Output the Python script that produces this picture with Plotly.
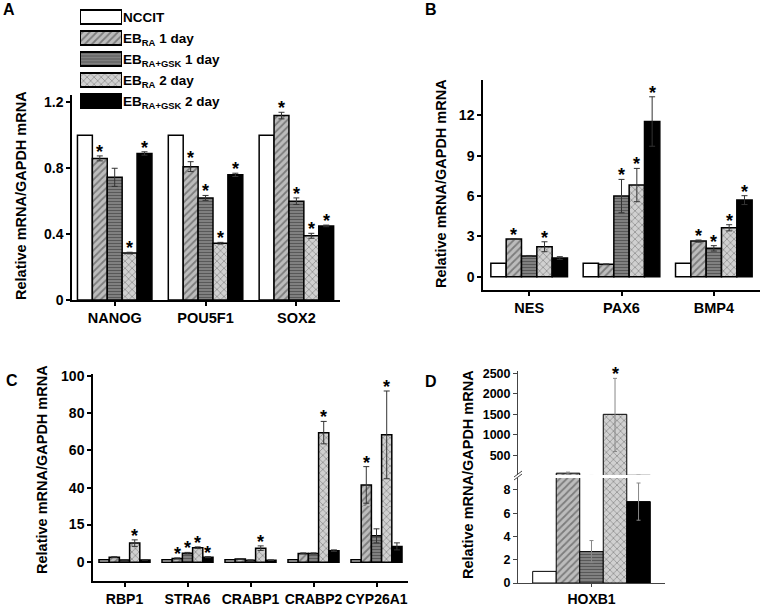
import plotly.graph_objects as go

W, H = 765, 606
FONT = "Arial, 'Liberation Sans', Helvetica, sans-serif"

SERIES = ["NCCIT", "EB<sub>RA</sub> 1 day", "EB<sub>RA+GSK</sub> 1 day",
          "EB<sub>RA</sub> 2 day", "EB<sub>RA+GSK</sub> 2 day"]

# ---------------- Panel A ----------------
A_GENES = ["NANOG", "POU5F1", "SOX2"]
A_NCCIT = [1.00, 1.00, 1.00]
A_RA1 = [0.86, 0.81, 1.12]
A_GSK1 = [0.745, 0.62, 0.60]
A_RA2 = [0.285, 0.345, 0.39]
A_GSK2 = [0.89, 0.76, 0.45]
A_ERR = [[0, 0, 0], [0.015, 0.03, 0.02], [0.055, 0.015, 0.02],
         [0.005, 0.005, 0.015], [0.01, 0.01, 0.005]]
A_SIG = [[0, 0, 0], [1, 1, 1], [0, 1, 1], [1, 1, 1], [1, 1, 1]]
A_TICKS = [0, 0.4, 0.8, 1.2]

# ---------------- Panel B ----------------
B_GENES = ["NES", "PAX6", "BMP4"]
B_NCCIT = [1.0, 1.0, 1.0]
B_RA1 = [2.80, 0.92, 2.65]
B_GSK1 = [1.54, 6.00, 2.11]
B_RA2 = [2.23, 6.82, 3.64]
B_GSK2 = [1.39, 11.55, 5.70]
B_ERR = [[0, 0, 0], [0.03, 0.03, 0.08], [0.04, 1.24, 0.20],
         [0.37, 1.24, 0.23], [0.10, 1.84, 0.33]]
B_SIG = [[0, 0, 0], [1, 0, 1], [0, 1, 1], [1, 1, 1], [0, 1, 1]]
B_TICKS = [0, 3, 6, 9, 12]

# ---------------- Panel C ----------------
C_GENES = ["RBP1", "STRA6", "CRABP1", "CRABP2", "CYP26A1"]
C_NCCIT = [1, 1, 1, 1, 1]
C_RA1 = [2.0, 1.5, 1.3, 3.5, 41.5]
C_GSK1 = [0.9, 3.6, 0.8, 3.5, 10.5]
C_RA2 = [7.6, 5.8, 5.6, 69.5, 68.3]
C_GSK2 = [0.9, 2.0, 0.8, 4.6, 6.3]
C_ERR = [[0, 0, 0, 0, 0], [0.2, 0.2, 0.1, 0.2, 9.8], [0.1, 0.3, 0.1, 0.2, 2.8],
         [1.3, 0.3, 0.9, 6.0, 23.5], [0.1, 0.2, 0.1, 0.3, 1.4]]
C_SIG = [[0, 0, 0, 0, 0], [0, 1, 0, 0, 1], [0, 1, 0, 0, 0],
         [1, 1, 1, 1, 1], [0, 1, 0, 0, 0]]
C_TICKS_LOW = [0, 15]
C_TICKS_HIGH = [40, 60, 80, 100]

# ---------------- Panel D ----------------
D_GENES = ["HOXB1"]
D_NCCIT = [1.0]
D_RA1 = [60]
D_GSK1 = [2.7]
D_RA2 = [1500]
D_GSK2 = [7.0]
D_ERR_UP = [[0], [25], [0.95], [880], [1.6]]
D_ERR_DN = [[0], [25], [0.95], [910], [1.6]]
D_SIG = [[0], [0], [0], [1], [0]]
D_TICKS_LOW = [0, 2, 4, 6, 8]
D_TICKS_HIGH = [500, 1000, 1500, 2000, 2500]

A_VALS = [A_NCCIT, A_RA1, A_GSK1, A_RA2, A_GSK2]
B_VALS = [B_NCCIT, B_RA1, B_GSK1, B_RA2, B_GSK2]
C_VALS = [C_NCCIT, C_RA1, C_GSK1, C_RA2, C_GSK2]
D_VALS = [D_NCCIT, D_RA1, D_GSK1, D_RA2, D_GSK2]

BAR_STYLES = [
    dict(color="white", pattern=dict(shape="")),
    dict(color="#b0b0b0", pattern=dict(shape="/", fgcolor="#3c3c3c", bgcolor="#bcbcbc", size=5, solidity=0.35)),
    dict(color="#777777", pattern=dict(shape="-", fgcolor="#303030", bgcolor="#808080", size=3, solidity=0.35)),
    dict(color="#c8c8c8", pattern=dict(shape="x", fgcolor="#555555", bgcolor="#d0d0d0", size=5, solidity=0.3)),
    dict(color="black", pattern=dict(shape="")),
]


def xd(l, r):
    return [l / W, r / W]


def yd(t, b):
    return [1 - b / H, 1 - t / H]


def tf(size=13):
    return dict(family=FONT, size=size, color="black", weight="bold")


fig = go.Figure()


def add_bars(vals, eup, edn, xa, ya, bw, lw, ecol, ewidth=3):
    for j in range(5):
        x = [i + (j - 2) * bw for i in range(len(vals[j]))]
        st = BAR_STYLES[j]
        fig.add_trace(go.Bar(
            x=x, y=vals[j], width=bw, xaxis=xa, yaxis=ya,
            marker=dict(color=st["color"], pattern=st["pattern"],
                        line=dict(color="black", width=lw)),
            error_y=dict(type="data", array=eup[j], arrayminus=edn[j],
                         visible=any(e > 0 for e in eup[j]),
                         color=ecol, thickness=1, width=ewidth),
            showlegend=False, hoverinfo="skip"))


def add_stars(vals, eup, sig, bw, refs):
    for j in range(5):
        for i, s in enumerate(sig[j]):
            if s:
                top = vals[j][i] + eup[j][i]
                xr, yr = refs(top)
                fig.add_annotation(x=i + (j - 2) * bw, y=top, xref=xr, yref=yr,
                                   text="*", showarrow=False, yanchor="middle",
                                   yshift=4, font=tf(18))


# Panel A
bwA = 0.164
add_bars(A_VALS, A_ERR, A_ERR, "x", "y", bwA, 1.5, "#333")
add_stars(A_VALS, A_ERR, A_SIG, bwA, lambda t: ("x", "y"))

# Panel B
bwB = 0.166
add_bars(B_VALS, B_ERR, B_ERR, "x2", "y2", bwB, 1.5, "#333")
add_stars(B_VALS, B_ERR, B_SIG, bwB, lambda t: ("x2", "y2"))

# Panel C (broken scale: lower and upper segments)
C_LOW_RANGE = [-7.5, 22.4]
C_HIGH_RANGE = [30.2, 100.9]
bwC = 0.162
add_bars(C_VALS, C_ERR, C_ERR, "x3", "y3", bwC, 1.5, "#333")
add_bars(C_VALS, C_ERR, C_ERR, "x4", "y4", bwC, 1.5, "#333")
add_stars(C_VALS, C_ERR, C_SIG, bwC,
          lambda t: ("x3", "y3") if t < C_LOW_RANGE[1] else ("x4", "y4"))

# Panel D (broken scale)
D_LOW_RANGE = [0, 9.03]
D_HIGH_RANGE = [15, 2560]
bwD = 0.16
add_bars(D_VALS, D_ERR_UP, D_ERR_DN, "x5", "y5", bwD, 1, "#888", 2)
add_bars(D_VALS, D_ERR_UP, D_ERR_DN, "x6", "y6", bwD, 1, "#888", 2)
add_stars(D_VALS, D_ERR_UP, D_SIG, bwD,
          lambda t: ("x5", "y5") if t < D_LOW_RANGE[1] else ("x6", "y6"))

# Legend swatches drawn as a small horizontal bar subplot
for j, name in enumerate(SERIES):
    st = BAR_STYLES[j]
    fig.add_trace(go.Bar(
        x=[1], y=[j], orientation="h", width=0.67, xaxis="x7", yaxis="y7",
        marker=dict(color=st["color"], pattern=st["pattern"],
                    line=dict(color="black", width=2)),
        showlegend=False, hoverinfo="skip"))


def axis(**kw):
    base = dict(showline=True, linecolor="black", linewidth=1.5, ticks="outside",
                ticklen=4, tickcolor="black", tickwidth=1.5, showgrid=False,
                zeroline=False, tickfont=tf(14), fixedrange=True, automargin=False,
                tickangle=0)
    base.update(kw)
    return base


layout = dict(
    width=W, height=H, margin=dict(l=0, r=0, t=0, b=0, autoexpand=False),
    paper_bgcolor="white", plot_bgcolor="rgba(0,0,0,0)",
    barmode="overlay", showlegend=False,
    font=dict(family=FONT, color="black"),
    # A
    xaxis=axis(domain=xd(72, 340), range=[-0.47, 2.48], tickvals=list(range(len(A_GENES))),
               ticktext=A_GENES, tickfont=tf(14.5), anchor="y"),
    yaxis=axis(domain=yd(95, 300), range=[0, 1.245], tickvals=A_TICKS, anchor="x"),
    # B
    xaxis2=axis(domain=xd(483, 760), range=[-0.5, 2.5], tickvals=list(range(len(B_GENES))),
                ticktext=B_GENES, tickfont=tf(14.5), anchor="y2"),
    yaxis2=axis(domain=yd(80, 290), range=[-0.99, 14.64], tickvals=B_TICKS, anchor="x2"),
    # C
    xaxis3=axis(domain=xd(93, 408), range=[-0.5, 4.5], tickvals=list(range(len(C_GENES))),
                ticktext=C_GENES, tickfont=tf(14), anchor="y3"),
    yaxis3=axis(domain=yd(506, 581), range=C_LOW_RANGE, tickvals=C_TICKS_LOW, anchor="x3"),
    xaxis4=dict(domain=xd(93, 408), range=[-0.5, 4.5], visible=False, anchor="y4",
                fixedrange=True),
    yaxis4=axis(domain=yd(374, 506), range=C_HIGH_RANGE, tickvals=C_TICKS_HIGH, anchor="x4"),
    # D
    xaxis5=axis(domain=xd(518, 665), range=[-0.5, 0.5], tickvals=[0], ticktext=D_GENES,
                tickfont=tf(14), anchor="y5", linecolor="#444", linewidth=1, tickcolor="#444",
                tickwidth=1, ticklen=3),
    yaxis5=axis(domain=yd(478, 583), range=D_LOW_RANGE, tickvals=D_TICKS_LOW, anchor="x5",
                linecolor="#444", linewidth=1, tickcolor="#444", tickwidth=1, tickfont=tf(12.5)),
    xaxis6=dict(domain=xd(518, 665), range=[-0.5, 0.5], visible=False, anchor="y6",
                fixedrange=True),
    yaxis6=axis(domain=yd(371, 475), range=D_HIGH_RANGE, tickvals=D_TICKS_HIGH, anchor="x6",
                linecolor="#444", linewidth=1, tickcolor="#444", tickwidth=1, tickfont=tf(12.5)),
    # legend
    xaxis7=dict(domain=xd(80, 122), range=[0, 1], visible=False, anchor="y7", fixedrange=True),
    yaxis7=dict(domain=yd(6.5, 111.5), range=[4.5, -0.5], tickvals=list(range(len(SERIES))),
                ticktext=SERIES, side="right", anchor="x7", showline=False, showgrid=False,
                zeroline=False, ticks="", tickfont=tf(13.5), fixedrange=True, automargin=False),
)
fig.update_layout(**layout)

# Panel letters and y-axis titles
for letter, px, py in [("A", 9, 10), ("B", 431, 9), ("C", 12, 380), ("D", 431, 381)]:
    fig.add_annotation(x=px / W, y=1 - py / H, xref="paper", yref="paper", text=letter,
                       showarrow=False, xanchor="center", yanchor="middle", font=tf(16))

YTITLE = "Relative mRNA/GAPDH mRNA"
for px, py in [(21, 196), (441, 183), (42, 470), (468, 475)]:
    fig.add_annotation(x=px / W, y=1 - py / H, xref="paper", yref="paper", text=YTITLE,
                       textangle=-90, showarrow=False, xanchor="center", yanchor="middle",
                       font=tf(14.5))

# axis-break mark on panel D
for dy in (0, 3):
    fig.add_shape(type="line", xref="paper", yref="paper",
                  x0=514 / W, y0=1 - (480 - dy) / H, x1=522 / W, y1=1 - (474 - dy) / H,
                  line=dict(color="#444", width=1))

fig.write_html("out.html", config={"displayModeBar": False},
               post_script="document.body.style.margin='0';")
